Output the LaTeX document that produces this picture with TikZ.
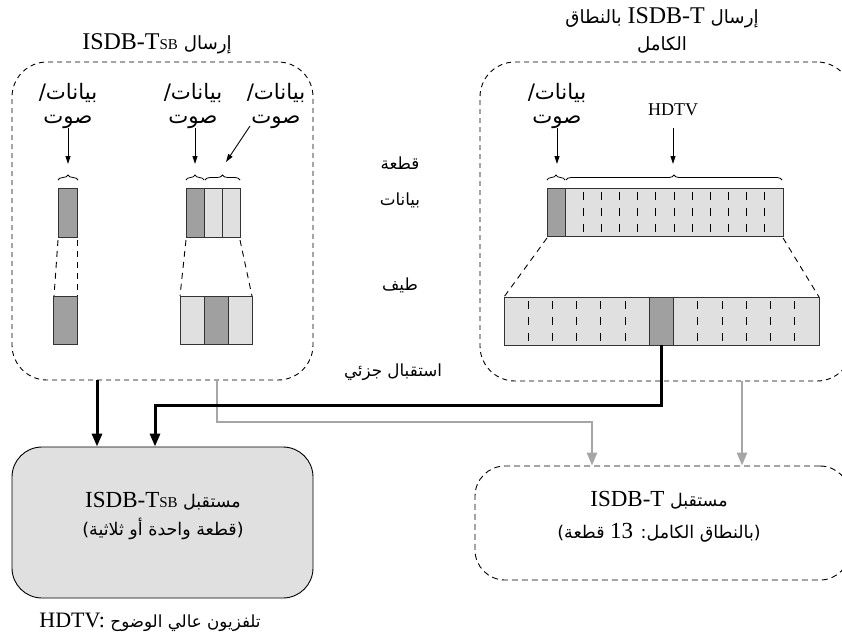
\documentclass[tikz,border=0pt]{standalone}
\usepackage{fontspec}
\setmainfont{Liberation Serif}
\newfontfamily\arabicfont[Script=Arabic,Scale=0.76]{DejaVu Sans}
\TeXXeTstate=1
\usetikzlibrary{arrows.meta,decorations.pathreplacing}
\newcommand\AR[1]{{\arabicfont\beginR#1\endR}}
\newcommand\LRx[1]{\beginL{\rmfamily #1}\endL}
\newcommand\TSB{T{\fontsize{15}{15}\selectfont SB}}
\definecolor{dkseg}{HTML}{A0A0A0}
\definecolor{ltseg}{HTML}{E0E0E0}
\definecolor{gline}{HTML}{A6A6A6}
\begin{document}
\begin{tikzpicture}[x=1pt,y=-1pt,
  txt/.style={font=\fontsize{23}{28}\selectfont, align=center, inner sep=0pt},
  midtxt/.style={font=\fontsize{22}{26}\selectfont, align=center, inner sep=0pt},
  ttltxt/.style={font=\fontsize{24}{28}\selectfont, align=center, inner sep=0pt},
  smalltxt/.style={font=\fontsize{28}{24}\selectfont, align=center, inner sep=0pt},
  bigbox/.style={draw, dashed, dash pattern=on 5pt off 4pt, line width=0.9pt, rounded corners=35pt, inner sep=0pt},
  dk/.style={fill=dkseg, draw=black!80, line width=0.8pt},
  lt/.style={fill=ltseg, draw=black!80, line width=0.8pt},
  divd/.style={draw=black, line width=1pt, dash pattern=on 8pt off 8pt, dash phase=12pt},
  zoomline/.style={draw, line width=0.9pt, dash pattern=on 6pt off 5pt},
  lbl/.style={-{Triangle[length=8pt,width=5pt]}, line width=0.9pt},
  brc/.style={decorate, decoration={brace, amplitude=5pt}, line width=0.8pt},
  blk/.style={-{Triangle[length=13pt,width=10pt]}, line width=3pt},
  gry/.style={-{Triangle[length=13pt,width=10pt]}, line width=2.5pt, draw=gline, color=gline}]
\useasboundingbox (0,0) rectangle (842,642);
\clip (0,0) rectangle (842,642);
\fill[white] (0,0) rectangle (842,642);

% big dashed transmission boxes
\node[bigbox, minimum width=301pt, minimum height=318pt] (ltx) at (162.5,221) {};
\node[bigbox, minimum width=372pt, minimum height=319pt] (rtx) at (666,221.5) {};

% titles
\node[ttltxt] (ttl) at (157,44) {\AR{إرسال \LRx{ISDB-\TSB}}};
\node[ttltxt] (ttr1) at (662,18) {\AR{إرسال \LRx{ISDB-T} بالنطاق}};
\node[ttltxt] (ttr2) at (662,45) {\AR{الكامل}};

% labels data/audio
\node[smalltxt] (la) at (68,106) {\AR{بيانات/}\\\AR{صوت}};
\node[smalltxt] (lb) at (193,106) {\AR{بيانات/}\\\AR{صوت}};
\node[smalltxt] (lc) at (276,106) {\AR{بيانات/}\\\AR{صوت}};
\node[smalltxt] (ld) at (557,106) {\AR{بيانات/}\\\AR{صوت}};
\node[font=\fontsize{18}{20}\selectfont, inner sep=0pt] (hd) at (673,110) {HDTV};

% label arrows
\coordinate (ba) at (68,164);
\coordinate (bb) at (195,164);
\coordinate (bc) at (226,162);
\coordinate (bd) at (557,164);
\coordinate (be) at (673,164);
\draw[lbl] (68,128) -- (ba);
\draw[lbl] (195,128) -- (bb);
\draw[lbl] (250,126) -- (bc);
\draw[lbl] (557,128) -- (bd);
\draw[lbl] (673,128) -- (be);

% braces
\draw[brc] (58,180) -- (78,180);
\draw[brc] (186,180) -- (204,180);
\draw[brc] (205,180) -- (240,180);
\draw[brc] (547,180) -- (565,180);
\draw[brc] (566,180) -- (782,180);

% left single segment
\filldraw[dk] (58,188) rectangle (77,237);
\filldraw[dk] (53,296) rectangle (77,344);
\draw[zoomline] (58,240) -- (54,296);
\draw[zoomline] (77,240) -- (77,296);

% three segments
\filldraw[dk] (186,188) rectangle (204,237);
\filldraw[lt] (204,188) rectangle (222,237);
\filldraw[lt] (222,188) rectangle (240,237);
\filldraw[lt] (180,296) rectangle (204,344);
\filldraw[dk] (204,296) rectangle (228,344);
\filldraw[lt] (228,296) rectangle (252,344);
\draw[zoomline] (186,240) -- (180,296);
\draw[zoomline] (240,240) -- (252,296);

% full band top
\filldraw[lt] (565.15,188) rectangle (783,236);
\filldraw[dk] (547,188) rectangle (565.15,236);
\foreach \k in {1,...,11} {
  \draw[divd] ({565.15+18.15*\k},188) -- ({565.15+18.15*\k},236);
}
% full band bottom
\filldraw[lt] (504,297) rectangle (819,345);
\filldraw[dk] (649.4,297) rectangle (673.6,345);
\foreach \k in {1,...,5,8,9,10,11,12} {
  \draw[divd] ({504+24.23*\k},297) -- ({504+24.23*\k},345);
}
\draw[zoomline] (547,238) -- (504,297);
\draw[zoomline] (783,238) -- (819,297);
\coordinate (ds) at (661.5,345);

% middle texts
\node[midtxt] (m1) at (400,163) {\AR{قطعة}};
\node[midtxt] (m2) at (400,200) {\AR{بيانات}};
\node[midtxt] (m3) at (400,285) {\AR{طيف}};
\node[midtxt] (m4) at (393,372) {\AR{استقبال جزئي}};

% receivers
\node[draw, line width=0.9pt, fill=ltseg, rounded corners=30pt, minimum width=301pt, minimum height=151pt, inner sep=0pt] (rxsb) at (162.5,522.5) {};
\node[txt] (rxsbt) at (163,516) {\AR{مستقبل \LRx{ISDB-\TSB}}\\[0pt]\AR{(قطعة واحدة أو ثلاثية)}};
\node[draw, dashed, dash pattern=on 6pt off 4pt, line width=0.9pt, rounded corners=30pt, minimum width=375pt, minimum height=114pt, inner sep=0pt] (rxt) at (662.5,523) {};
\node[txt] (rxtt) at (659,517) {\AR{مستقبل \LRx{ISDB-T}}\\[4pt]\AR{(بالنطاق الكامل: \LRx{13} قطعة)}};

% connectors
\coordinate (a1) at (97,380);
\coordinate (j1) at (155,405);
\coordinate (g1) at (217,380);
\coordinate (g2) at (592,422);
\coordinate (g3) at (742,381);
\draw[gry] (g1) |- (g2) -- (g2 |- rxt.north);
\draw[gry] (g3) -- (g3 |- rxt.north);
\draw[blk] (a1) -- (a1 |- rxsb.north);
\draw[blk] (ds) |- (j1) -- (j1 |- rxsb.north);

% footnote
\node[font=\fontsize{22}{26}\selectfont, inner sep=0pt] (note) at (150,622) {HDTV: \AR{تلفزيون عالي الوضوح}};
\end{tikzpicture}
\end{document}
